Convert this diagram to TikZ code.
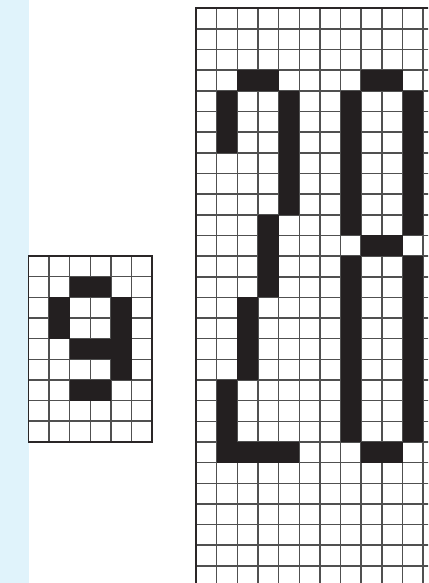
\documentclass[tikz,border=0pt]{standalone}
\definecolor{stripc}{HTML}{E0F3FB}
\definecolor{inkc}{HTML}{231F20}
\definecolor{gridc}{HTML}{505050}
\begin{document}
\begin{tikzpicture}[x=1pt,y=-1pt,
  gridline/.style={draw=gridc,line width=1.5pt},
  frameline/.style={draw=inkc!85!gridc,line width=1.6pt},
  cellfill/.style={fill=inkc}]
\useasboundingbox (0,0) rectangle (428,583);
\clip (0,0) rectangle (428,583);
\def\s{20.65}
% background strip
\fill[stripc] (0,0) rectangle (28.6,583);
\fill[white] (28.6,0) rectangle (428,583);
% ---------- small grid (6 x 9) ----------
\def\ax{28.3}\def\ay{256}
\fill[white] (\ax,\ay) rectangle ++({6*\s},{9*\s});
\foreach \k in {1,...,5}
  \draw[gridline] ({\ax+\k*\s},\ay) -- ++(0,{9*\s});
\foreach \k in {1,...,8}
  \draw[gridline] (\ax,{\ay+\k*\s}) -- ++({6*\s},0);
\foreach \c/\r/\w/\h in {2/1/2/1,1/2/1/2,4/2/1/4,2/4/2/1,2/6/2/1}
  \fill[cellfill] ({\ax+\c*\s},{\ay+\r*\s}) rectangle ++({\w*\s},{\h*\s});
\draw[frameline] (\ax,\ay) rectangle ++({6*\s},{9*\s});
% ---------- large grid ----------
\def\bx{196}\def\by{8.3}
\foreach \k in {1,...,11}
  \draw[gridline] ({\bx+\k*\s},\by) -- ({\bx+\k*\s},590);
\foreach \k in {1,...,27}
  \draw[gridline] (\bx,{\by+\k*\s}) -- (430,{\by+\k*\s});
\foreach \c/\r/\w/\h in {2/3/2/1,8/3/2/1,1/4/1/3,4/4/1/6,3/10/1/4,2/14/1/4,
    1/18/1/4,2/21/3/1,7/4/1/7,10/4/1/7,8/11/2/1,7/12/1/9,10/12/1/9,8/21/2/1}
  \fill[cellfill] ({\bx+\c*\s},{\by+\r*\s}) rectangle ++({\w*\s},{\h*\s});
\draw[frameline] (\bx,590) -- (\bx,\by) -- (430,\by);
\end{tikzpicture}
\end{document}
